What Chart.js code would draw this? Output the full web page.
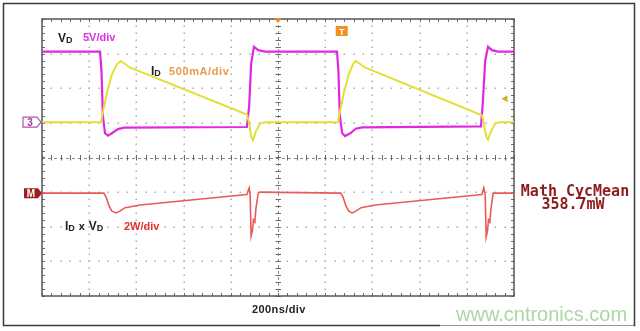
<!DOCTYPE html>
<html>
<head>
<meta charset="utf-8">
<script src="https://cdn.jsdelivr.net/npm/chart.js@4.4.1/dist/chart.umd.min.js"></script>
<style>
  html,body{margin:0;padding:0;background:#fff;}
  #wrap{position:relative;width:640px;height:331px;}
  canvas{display:block;}
</style>
</head>
<body>
<div id="wrap"><canvas id="c" width="640" height="331"></canvas></div>
<script>
// Time in ns (200 ns/div, 10 divisions); amplitudes in screen divisions (0 = bottom, 8 = top)
const timeRange = [0, 2000];
const divRange = [0, 8];
const timeTicks = [0,200,400,600,800,1000,1200,1400,1600,1800,2000];
const divTicks = [0,1,2,3,4,5,6,7,8];

// V_D (5 V/div)
const vdTime = [0,246,252,258,267,280,296,322,348,868,878,886,898,916,944,1250,1256,1262,1272,1284,1306,1330,1356,1860,1868,1878,1890,1906,1932,2000];
const vdDiv  = [7.06,7.06,6.5,5.2,4.7,4.63,4.70,4.82,4.86,4.88,5.5,6.7,7.20,7.10,7.06,7.06,6.5,5.2,4.7,4.62,4.70,4.83,4.87,4.90,5.6,6.8,7.20,7.10,7.06,7.06];

// I_D (500 mA/div)
const idTime = [0,250,258,276,296,318,334,352,372,868,878,886,894,906,924,944,1254,1262,1280,1300,1318,1330,1348,1368,1864,1872,1882,1890,1902,1920,1940,2000];
const idDiv  = [5.02,5.02,5.3,5.9,6.4,6.7,6.79,6.70,6.60,5.24,5.0,4.6,4.50,4.75,4.98,5.02,5.02,5.3,5.9,6.4,6.7,6.79,6.70,6.60,5.22,5.0,4.6,4.52,4.75,4.98,5.02,5.02];

// Math I_D x V_D (2 W/div)
const pTime = [0,262,272,284,296,314,330,352,416,868,878,882,886,892,896,902,906,916,924,1266,1276,1288,1300,1314,1330,1352,1412,1864,1872,1878,1882,1888,1892,1898,1902,1912,2000];
const pDiv  = [2.97,2.97,2.85,2.6,2.45,2.40,2.45,2.55,2.63,2.93,3.12,2.9,1.73,1.9,2.2,2.14,2.5,2.97,3.0,2.97,2.85,2.6,2.45,2.40,2.45,2.55,2.63,2.93,3.12,2.9,1.70,1.9,2.2,2.14,2.5,2.97,2.97];

const zip = (xs, ys) => xs.map((x, i) => ({x, y: ys[i]}));

const scopePlugin = {
  id: 'scope',
  beforeDatasetsDraw(chart) {
    const {ctx, scales:{x, y}} = chart;
    const l = x.getPixelForValue(timeRange[0]), r = x.getPixelForValue(timeRange[1]);
    const t = y.getPixelForValue(divRange[1]), b = y.getPixelForValue(divRange[0]);
    const cx = x.getPixelForValue(1000), cy = y.getPixelForValue(4);
    ctx.save();
    // outer frame
    ctx.strokeStyle = '#3a3a3a'; ctx.lineWidth = 1.5;
    ctx.strokeRect(3.5, 3.5, 631, 322);
    // grid dots
    ctx.fillStyle = '#ababab';
    const stepT = 40, stepD = 0.2;
    divTicks.forEach(d => {
      if (d === 0 || d === 8 || d === 4) return;
      const py = Math.round(y.getPixelForValue(d));
      for (let tt = 0; tt <= 2000; tt += stepT) {
        ctx.fillRect(Math.round(x.getPixelForValue(tt)) - 0.5, py - 0.5, 1.5, 1.5);
      }
    });
    timeTicks.forEach(tv => {
      if (tv === 0 || tv === 2000 || tv === 1000) return;
      const px = Math.round(x.getPixelForValue(tv));
      for (let d = 0; d <= 8.001; d += stepD) {
        ctx.fillRect(px - 0.5, Math.round(y.getPixelForValue(d)) - 0.5, 1.5, 1.5);
      }
    });
    // center crosshair (dashed with ticks)
    ctx.strokeStyle = '#8a8a8a'; ctx.lineWidth = 1;
    ctx.setLineDash([3, 3]);
    ctx.beginPath();
    ctx.moveTo(l, Math.round(cy) + 0.5); ctx.lineTo(r, Math.round(cy) + 0.5);
    ctx.moveTo(Math.round(cx) + 0.5, t); ctx.lineTo(Math.round(cx) + 0.5, b);
    ctx.stroke();
    ctx.setLineDash([]);
    ctx.strokeStyle = '#6a6a6a';
    ctx.beginPath();
    for (let tt = 0; tt <= 2000; tt += stepT) {
      const px = Math.round(x.getPixelForValue(tt)) + 0.5;
      ctx.moveTo(px, cy - 2.5); ctx.lineTo(px, cy + 3);
      ctx.moveTo(px, t); ctx.lineTo(px, t + 3);
      ctx.moveTo(px, b); ctx.lineTo(px, b - 3);
    }
    for (let d = 0; d <= 8.001; d += stepD) {
      const py = Math.round(y.getPixelForValue(d)) + 0.5;
      ctx.moveTo(cx - 2.5, py); ctx.lineTo(cx + 3, py);
      ctx.moveTo(l, py); ctx.lineTo(l + 3, py);
      ctx.moveTo(r, py); ctx.lineTo(r - 3, py);
    }
    ctx.stroke();
    // plot border
    ctx.strokeStyle = '#555'; ctx.lineWidth = 1.5;
    ctx.strokeRect(l, t, r - l, b - t);
    ctx.restore();
  },
  afterDraw(chart) {
    const {ctx, scales:{x, y}} = chart;
    const X = v => x.getPixelForValue(v), Y = v => y.getPixelForValue(v);
    ctx.save();
    ctx.textBaseline = 'alphabetic';
    // helper: text with subscript
    const sub = (main, s, px, py, color, size) => {
      ctx.fillStyle = color;
      ctx.font = 'bold ' + size + 'px "Liberation Sans", Arial, sans-serif';
      ctx.fillText(main, px, py);
      const w = ctx.measureText(main).width;
      ctx.font = 'bold ' + (size - 3) + 'px "Liberation Sans", Arial, sans-serif';
      ctx.fillText(s, px + w, py + 1);
      return px + w + ctx.measureText(s).width;
    };
    // V_D 5V/div
    sub('V', 'D', 58, 42, '#222', 12);
    ctx.font = 'bold 11px "Liberation Sans", Arial, sans-serif';
    ctx.fillStyle = '#e030e0'; ctx.fillText('5V/div', 83, 41);
    // I_D 500mA/div
    sub('I', 'D', 151, 75, '#222', 12);
    ctx.font = 'bold 11px "Liberation Sans", Arial, sans-serif';
    ctx.fillStyle = '#eb9a4a'; ctx.letterSpacing = '0.6px'; ctx.fillText('500mA/div', 169, 75);
    ctx.letterSpacing = '0px';
    // I_D x V_D 2W/div
    let ex = sub('I', 'D', 65, 230, '#222', 12);
    ctx.font = 'bold 11px "Liberation Sans", Arial, sans-serif';
    ctx.fillStyle = '#222'; ctx.fillText('x', ex + 4, 230);
    sub('V', 'D', ex + 14, 230, '#222', 12);
    ctx.font = 'bold 11px "Liberation Sans", Arial, sans-serif';
    ctx.fillStyle = '#e03232'; ctx.fillText('2W/div', 124, 230);
    // timebase
    ctx.fillStyle = '#222';
    ctx.font = 'bold 11px "Liberation Sans", Arial, sans-serif';
    ctx.letterSpacing = '0.4px';
    ctx.fillText('200ns/div', 252, 313);
    ctx.letterSpacing = '0px';
    // math readout
    ctx.fillStyle = '#8e1c1c';
    ctx.textAlign = 'center';
    ctx.font = 'bold 15px "DejaVu Sans Mono", monospace';
    ctx.fillText('Math CycMean', 575, 196);
    ctx.fillText('358.7mW', 573, 209);
    ctx.textAlign = 'left';
    // channel 3 marker
    const cy3 = Y(5.02);
    ctx.fillStyle = '#fff'; ctx.strokeStyle = '#b050b0'; ctx.lineWidth = 1.2;
    ctx.beginPath();
    ctx.moveTo(23, cy3 - 5); ctx.lineTo(37, cy3 - 5); ctx.lineTo(41, cy3); ctx.lineTo(37, cy3 + 5); ctx.lineTo(23, cy3 + 5); ctx.closePath();
    ctx.fill(); ctx.stroke();
    ctx.fillStyle = '#a040a0'; ctx.font = 'bold 10px "Liberation Sans", Arial, sans-serif';
    ctx.textAlign = 'center'; ctx.fillText('3', 30, cy3 + 4);
    // math marker
    const cym = Y(2.97);
    ctx.fillStyle = '#9e1e1e';
    ctx.beginPath();
    ctx.moveTo(24, cym - 5); ctx.lineTo(38, cym - 5); ctx.lineTo(42, cym); ctx.lineTo(38, cym + 5); ctx.lineTo(24, cym + 5); ctx.closePath();
    ctx.fill();
    ctx.fillStyle = '#fff'; ctx.font = 'bold 10px "Liberation Sans", Arial, sans-serif';
    ctx.fillText('M', 31, cym + 4);
    // trigger T marker
    const tx = X(1270), ty = 31;
    ctx.fillStyle = '#f0901e';
    ctx.fillRect(tx - 6, ty - 5, 12, 10);
    ctx.fillStyle = '#fff'; ctx.font = 'bold 9px "Liberation Sans", Arial, sans-serif';
    ctx.fillText('T', tx, ty + 3.5);
    // trigger position marker at top
    const tp = X(1000), tt = Y(8);
    ctx.fillStyle = '#f08a20';
    ctx.beginPath(); ctx.moveTo(tp - 4, tt - 1); ctx.lineTo(tp + 4, tt - 1); ctx.lineTo(tp, tt + 4); ctx.closePath(); ctx.fill();
    // trigger level arrow (right)
    const ly = Y(5.7), lx = X(1960);
    ctx.fillStyle = '#c8b820';
    ctx.beginPath(); ctx.moveTo(lx - 3, ly); ctx.lineTo(lx + 3, ly - 3.5); ctx.lineTo(lx + 3, ly + 3.5); ctx.closePath(); ctx.fill();
    // watermark
    ctx.fillStyle = '#fff';
    ctx.fillRect(440, 305, 193, 26);
    ctx.strokeStyle = '#999'; ctx.lineWidth = 1;
    ctx.beginPath(); ctx.moveTo(440, 325.5); ctx.lineTo(634, 325.5); ctx.stroke();
    ctx.fillStyle = '#acd6a5';
    ctx.textAlign = 'left';
    ctx.font = '20px "Liberation Sans", Arial, sans-serif';
    ctx.fillText('www.cntronics.com', 456, 321);
    ctx.restore();
  }
};

new Chart(document.getElementById('c'), {
  type: 'line',
  data: {
    datasets: [
      {label: 'Math ID x VD', data: zip(pTime, pDiv), borderColor: '#ea5a5a', borderWidth: 1.6},
      {label: 'ID', data: zip(idTime, idDiv), borderColor: '#e2e036', borderWidth: 2},
      {label: 'VD', data: zip(vdTime, vdDiv), borderColor: '#e028e0', borderWidth: 2.2}
    ]
  },
  options: {
    responsive: false,
    animation: false,
    events: [],
    layout: {padding: {left: 42, top: 19, right: 126, bottom: 35}},
    elements: {point: {radius: 0}, line: {tension: 0}},
    plugins: {legend: {display: false}, tooltip: {enabled: false}, title: {display: false}},
    scales: {
      x: {type: 'linear', min: timeRange[0], max: timeRange[1],
          grid: {display: false, drawTicks: false}, border: {display: false},
          ticks: {display: false}},
      y: {type: 'linear', min: divRange[0], max: divRange[1],
          grid: {display: false, drawTicks: false}, border: {display: false},
          ticks: {display: false}}
    }
  },
  plugins: [scopePlugin]
});
</script>
</body>
</html>
